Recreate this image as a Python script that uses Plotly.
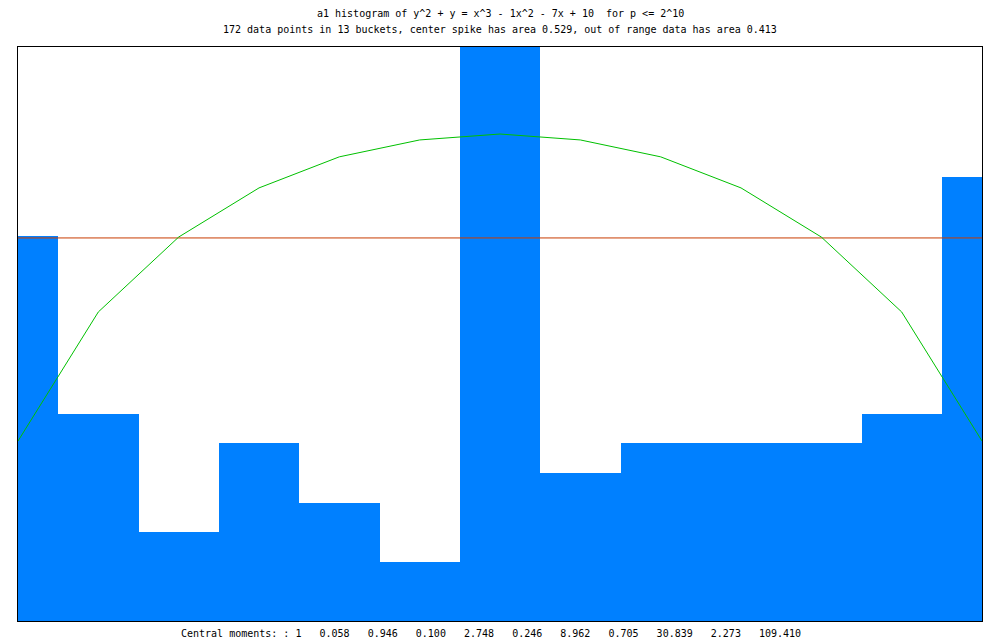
import plotly.graph_objects as go

# ---- data ----
bucket_index = list(range(13))
bucket_counts = [13, 7, 3, 6, 4, 2, 19.4, 5, 6, 6, 6, 7, 15]   # centre spike runs off the top
expected_curve = [6.08, 10.44, 12.97, 14.63, 15.68, 16.25, 16.45,
                  16.25, 15.68, 14.63, 12.97, 10.44, 6.08]
reference_level = 12.94
moment_values = ["1", "0.058", "0.946", "0.100", "2.748", "0.246", "8.962",
                 "0.705", "30.839", "2.273", "109.410"]

title_line1 = "a1 histogram of y^2 + y = x^3 - 1x^2 - 7x + 10\u00a0\u00a0for p &lt;= 2^10"
title_line2 = "172 data points in 13 buckets, center spike has area 0.529, out of range data has area 0.413"
moments_label = "Central moments: : " + "\u00a0\u00a0\u00a0".join(moment_values)

# ---- layout constants ----
W, H = 1000, 640
ML, MR, MT, MB = 18, 18, 47, 19
FONT = dict(family="DejaVu Sans Mono", size=10, color="black")

fig = go.Figure()
fig.add_trace(go.Bar(x=bucket_index, y=bucket_counts, width=1,
                     marker=dict(color="#0080ff", line=dict(width=0)),
                     hoverinfo="skip", showlegend=False))
fig.add_trace(go.Scatter(x=[bucket_index[0], bucket_index[-1]],
                         y=[reference_level, reference_level], mode="lines",
                         line=dict(color="#c83c00", width=1),
                         hoverinfo="skip", showlegend=False))
fig.add_trace(go.Scatter(x=bucket_index, y=expected_curve, mode="lines",
                         line=dict(color="#00c000", width=1),
                         hoverinfo="skip", showlegend=False))

pw = W - ML - MR
ph = H - MT - MB
def px_to_paper_x(px):
    return (px - ML) / pw
def px_to_paper_y(py):
    return (H - MB - py) / ph

ann = [
    dict(text=title_line1, x=0.5, y=px_to_paper_y(13), xref="paper", yref="paper",
         showarrow=False, font=FONT, xanchor="center", yanchor="middle"),
    dict(text=title_line2, x=0.5, y=px_to_paper_y(29), xref="paper", yref="paper",
         showarrow=False, font=FONT, xanchor="center", yanchor="middle"),
    dict(text=moments_label, x=px_to_paper_x(179), y=px_to_paper_y(633),
         xref="paper", yref="paper", showarrow=False, font=FONT,
         xanchor="left", yanchor="middle"),
]

fig.update_layout(
    width=W, height=H, autosize=False,
    margin=dict(l=ML, r=MR, t=MT, b=MB, pad=0),
    paper_bgcolor="white", plot_bgcolor="white",
    bargap=0, showlegend=False,
    annotations=ann,
    font=FONT,
)
fig.update_xaxes(range=[0, 12], showgrid=False, zeroline=False, showticklabels=False,
                 ticks="", showline=True, mirror=True, linecolor="black", linewidth=1)
fig.update_yaxes(range=[0, 19.39], showgrid=False, zeroline=False, showticklabels=False,
                 ticks="", showline=True, mirror=True, linecolor="black", linewidth=1)

fig.write_html("out.html", config=dict(displayModeBar=False),
               post_script="document.body.style.margin='0';document.body.style.overflow='hidden';")
